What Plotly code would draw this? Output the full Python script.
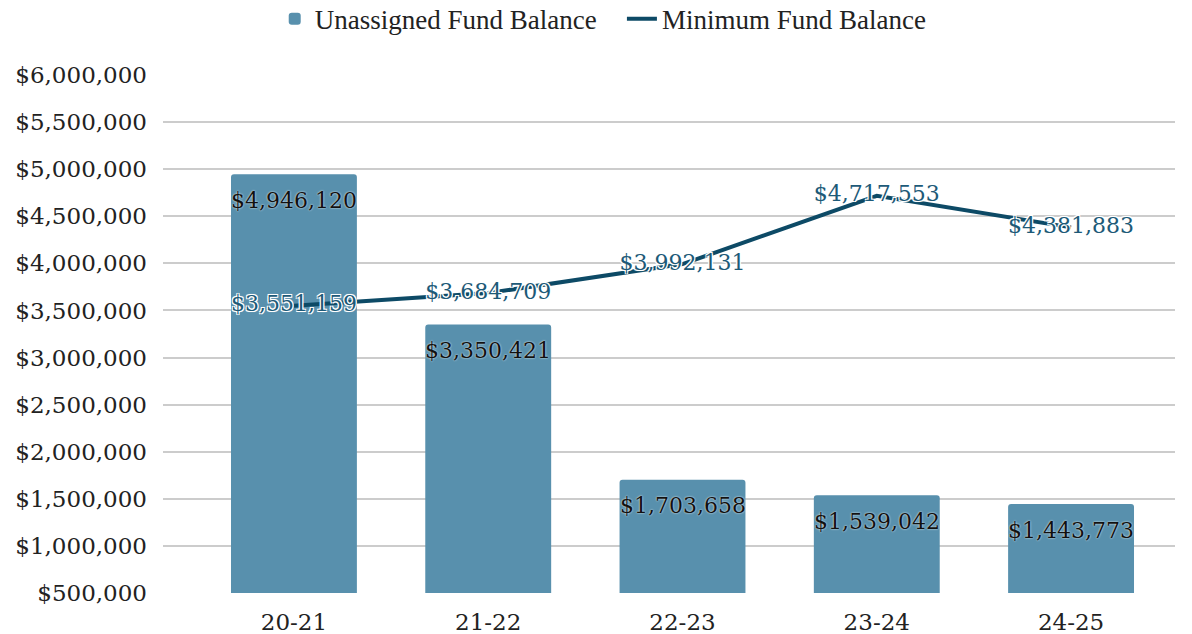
import plotly.graph_objects as go

categories = ["20-21", "21-22", "22-23", "23-24", "24-25"]
unassigned = [4946120, 3350421, 1703658, 1539042, 1443773]
minimum = [3551159, 3684709, 3992131, 4717553, 4381883]

FONT = "DejaVu Serif"
LEG_FONT = "Liberation Serif"
BAR_COLOR = "#5890ad"
LINE_COLOR = "#0d4a66"
HALO = "-1px -1px 0 #fff, 1px -1px 0 #fff, -1px 1px 0 #fff, 1px 1px 0 #fff, 0 0 2px #fff"
FS = 23

def money(v):
    return "${:,.0f}".format(v)

fig = go.Figure()
fig.add_trace(go.Bar(
    x=categories, y=unassigned, name="Unassigned Fund Balance\u00a0\u00a0\u00a0",
    marker=dict(color=BAR_COLOR, line=dict(width=0), cornerradius=3),
))
fig.add_trace(go.Scatter(
    x=categories, y=minimum, name="Minimum Fund Balance",
    mode="lines+text", line=dict(color=LINE_COLOR, width=4),
    text=[money(v) for v in minimum], textposition="middle center",
    textfont=dict(family=FONT, size=22, color="#1d5a78", shadow=HALO),
))

for c, v in zip(categories, unassigned):
    fig.add_annotation(
        x=c, y=v, text=money(v), showarrow=False, yanchor="middle", yshift=-26,
        font=dict(family=FONT, size=22, color="#111111", shadow="0 0 2px #fff"),
    )

fig.update_layout(
    width=1184, height=626,
    margin=dict(l=155, r=17, t=67, b=41, autoexpand=False),
    paper_bgcolor="white", plot_bgcolor="white",
    bargap=0.352,
    font=dict(family=FONT, size=FS, color="#222222"),
    legend=dict(orientation="h", x=0.435, xanchor="center", y=1.155, yanchor="top",
                font=dict(family=LEG_FONT, size=27, color="#222222"), itemwidth=30),
    showlegend=True,
)
fig.update_yaxes(range=[500000, 6000000], dtick=500000, tickformat="$,.0f",
                 showgrid=True, gridcolor="#cccccc", gridwidth=2, zeroline=False,
                 automargin=False,
                 ticks="", ticklabelstandoff=15, tickfont=dict(family=FONT, size=FS, color="#222222"))
fig.update_xaxes(showgrid=False, showline=False, ticks="", automargin=False,
                 range=[-0.674, 4.535],
                 ticklabelstandoff=13,
                 tickfont=dict(family=FONT, size=FS, color="#222222"))

fig.write_html("out.html")
